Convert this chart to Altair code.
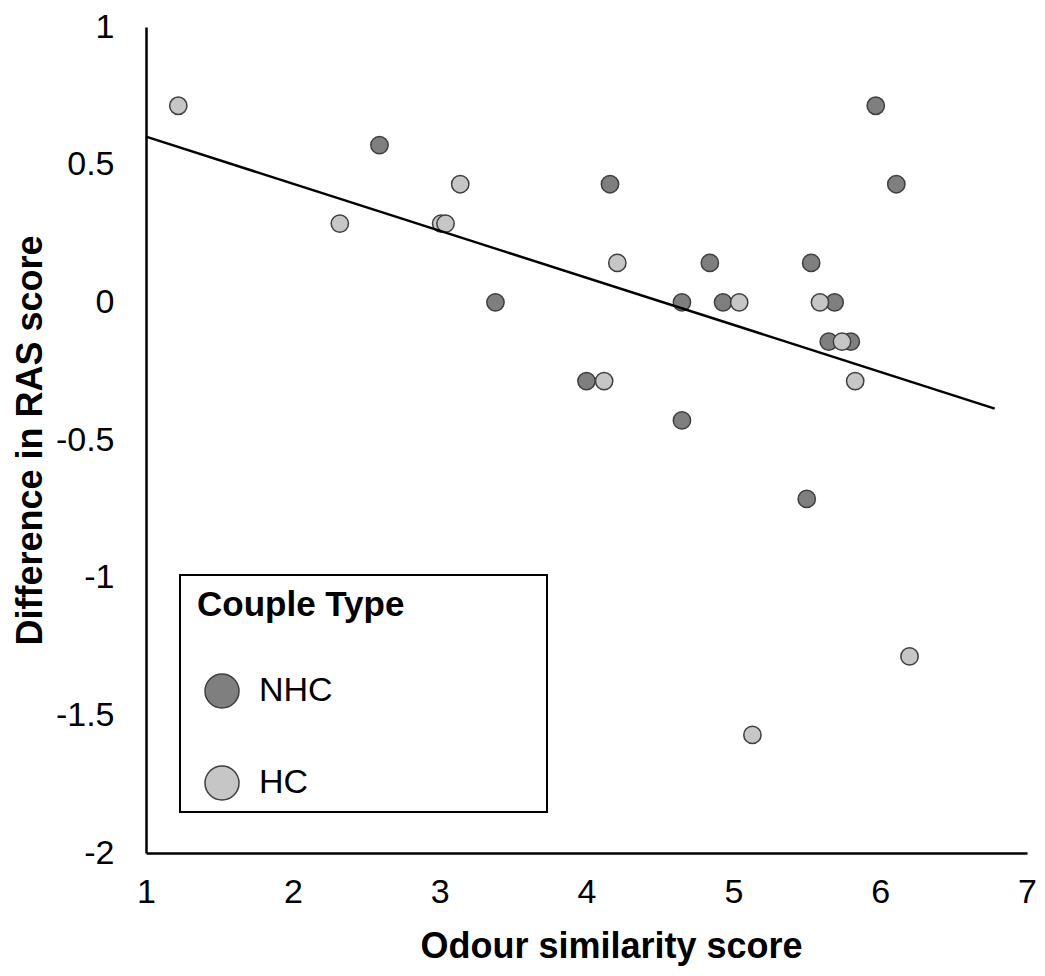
import altair as alt
import pandas as pd

# Data
nhc_x = [2.59, 3.38, 4.00, 4.16, 4.84, 4.65, 4.65, 4.93, 5.53, 5.69, 5.65, 5.80, 5.50, 5.97, 6.11]
nhc_y = [0.571, 0.0, -0.286, 0.429, 0.143, 0.0, -0.429, 0.0, 0.143, 0.0, -0.143, -0.143, -0.714, 0.714, 0.429]

hc_x = [1.22, 2.32, 3.01, 3.04, 3.14, 4.21, 4.12, 5.04, 5.59, 5.74, 5.83, 5.13, 6.20]
hc_y = [0.714, 0.286, 0.286, 0.286, 0.429, 0.143, -0.286, 0.0, 0.0, -0.143, -0.286, -1.571, -1.286]

groups = ["NHC", "HC"]
group_colors = ["#7f7f7f", "#c6c6c6"]

# Trend line end points
line_x = [1.0, 6.78]
line_y = [0.602, -0.386]

x_ticks = [1, 2, 3, 4, 5, 6, 7]
y_ticks = [-2, -1.5, -1, -0.5, 0, 0.5, 1]

pts = pd.DataFrame({
    "x": nhc_x + hc_x,
    "y": nhc_y + hc_y,
    "Couple Type": ["NHC"] * len(nhc_x) + ["HC"] * len(hc_x),
})
line_df = pd.DataFrame({"x": line_x, "y": line_y})

FONT = "Liberation Sans"

xenc = alt.X("x:Q", scale=alt.Scale(domain=[1, 7], nice=False, zero=False),
             axis=alt.Axis(title="Odour similarity score", values=x_ticks, format="d",
                           titleX=465, labelFlush=False))
yenc = alt.Y("y:Q", scale=alt.Scale(domain=[-2, 1], nice=False, zero=False),
             axis=alt.Axis(title="Difference in RAS score", values=y_ticks,
                           labelExpr="datum.value", labelFlush=False))

frame = alt.Chart(pd.DataFrame({"a": [0]})).mark_rect(
    fill="white", stroke="black", strokeWidth=2
).encode(
    x=alt.value(34), x2=alt.value(401), y=alt.value(548), y2=alt.value(785)
)

points = alt.Chart(pts).mark_point(
    shape="circle", filled=True, size=300, stroke="#3f3f3f", strokeWidth=1.5, opacity=1
).encode(
    x=xenc,
    y=yenc,
    color=alt.Color("Couple Type:N",
                    scale=alt.Scale(domain=groups, range=group_colors),
                    legend=alt.Legend(orient="none", legendX=51, legendY=561,
                                      title="Couple Type")),
)

trend = alt.Chart(line_df).mark_line(color="black", strokeWidth=2.5).encode(
    x=alt.X("x:Q"), y=alt.Y("y:Q")
)

chart = alt.layer(frame, points, trend).properties(
    width=881, height=826,
    autosize=alt.AutoSizeParams(type="none"),
    padding={"left": 138, "top": 19, "right": 10, "bottom": 115},
).configure_view(
    stroke=None
).configure_axis(
    domainColor="black", domainWidth=2.5, ticks=False, grid=False,
    labelFont=FONT, labelFontSize=34, labelColor="black",
    titleFont=FONT, titleFontSize=36, titleFontWeight="bold", titleColor="black",
).configure_axisX(
    labelPadding=22, titlePadding=20,
).configure_axisY(
    labelPadding=32, titlePadding=6,
).configure_legend(
    titleFont=FONT, titleFontSize=35, titleFontWeight="bold", titleColor="black",
    titleLimit=400, labelLimit=300,
    labelFont=FONT, labelFontSize=34, labelColor="black",
    symbolSize=1156, symbolType="circle", symbolStrokeColor="#3f3f3f",
    symbolStrokeWidth=1.5, symbolOffset=7, labelOffset=19,
    titlePadding=50, rowPadding=52, padding=0, symbolFillColor="#7f7f7f",
)

chart.save("out.html", embed_options={"renderer": "svg", "actions": False})
